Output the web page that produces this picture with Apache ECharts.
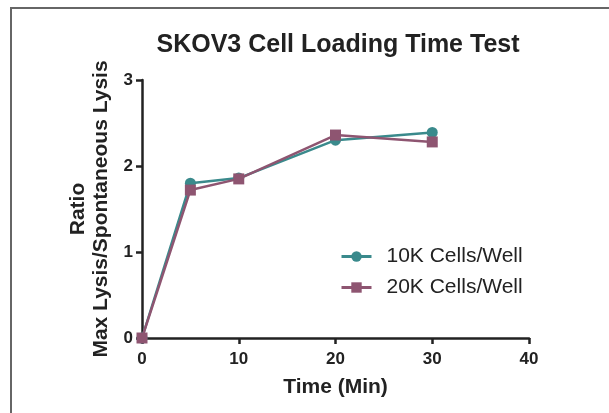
<!DOCTYPE html>
<html>
<head>
<meta charset="utf-8">
<script src="https://cdn.jsdelivr.net/npm/echarts@6/dist/echarts.min.js"></script>
<style>
  html, body { margin: 0; padding: 0; background: #fff; }
  #chart { width: 609px; height: 413px; }
</style>
</head>
<body>
<div id="chart"></div>
<script>
(function () {
var myChart = echarts.init(document.getElementById("chart"));

var times = [0, 5, 10, 20, 30];
var cells10k = [0, 1.80, 1.86, 2.30, 2.39];
var cells20k = [0, 1.72, 1.85, 2.36, 2.28];
var names = ["10K Cells/Well", "20K Cells/Well"];

function pairs(xs, ys) {
    var out = [];
    for (var i = 0; i < xs.length; i++) {
        out.push([xs[i], ys[i]]);
    }
    return out;
}

var font = "Liberation Sans, Arial, sans-serif";

option = {
    animation: false,
    title: {
        text: "SKOV3 Cell Loading Time Test",
        left: 333,
        top: 28,
        textAlign: "center",
        textStyle: {
            fontFamily: font,
            fontSize: 25,
            fontWeight: "bold",
            color: "#222"
        }
    },
    graphic: [{
        type: "rect",
        shape: { x: 11, y: 8, width: 620, height: 420 },
        style: { fill: "none", stroke: "#666", lineWidth: 2 }
    }],
    legend: {
        data: names,
        orient: "vertical",
        left: 335,
        top: 241,
        itemWidth: 30,
        itemHeight: 13,
        itemGap: 10,
        lineStyle: { width: 3 },
        textStyle: {
            fontFamily: font,
            fontSize: 21,
            color: "#222",
            padding: [0, 0, 0, 10]
        }
    },
    grid: {
        left: 142,
        right: 80,
        top: 80,
        bottom: 75
    },
    xAxis: {
        type: "value",
        min: 0,
        max: 40,
        interval: 10,
        name: "Time (Min)",
        nameLocation: "middle",
        nameGap: 39,
        nameTextStyle: {
            fontFamily: font,
            fontSize: 21,
            fontWeight: "bold",
            color: "#222"
        },
        axisLine: { lineStyle: { color: "#222", width: 2.5 } },
        axisTick: { show: true, length: 6, lineStyle: { color: "#222", width: 2.5 } },
        axisLabel: {
            fontFamily: font,
            fontSize: 17,
            fontWeight: "bold",
            color: "#222",
            margin: 13
        },
        splitLine: { show: false }
    },
    yAxis: {
        type: "value",
        min: 0,
        max: 3,
        interval: 1,
        name: "Ratio\nMax Lysis/Spontaneous Lysis",
        nameLocation: "middle",
        nameRotate: 90,
        nameGap: 24,
        nameTextStyle: {
            fontFamily: font,
            fontSize: 21,
            fontWeight: "bold",
            color: "#222",
            lineHeight: 23
        },
        axisLine: { show: true, lineStyle: { color: "#222", width: 2.5 } },
        axisTick: { show: true, length: 6, lineStyle: { color: "#222", width: 2.5 } },
        axisLabel: {
            fontFamily: font,
            fontSize: 17,
            fontWeight: "bold",
            color: "#222",
            margin: 9
        },
        splitLine: { show: false }
    },
    series: [{
        name: names[0],
        type: "line",
        data: pairs(times, cells10k),
        symbol: "circle",
        symbolSize: 11,
        itemStyle: { color: "#3a8a8c" },
        lineStyle: { color: "#3a8a8c", width: 2.5 }
    }, {
        name: names[1],
        type: "line",
        data: pairs(times, cells20k),
        symbol: "rect",
        symbolSize: 11,
        itemStyle: { color: "#8e5571" },
        lineStyle: { color: "#8e5571", width: 2.5 }
    }]
};

myChart.setOption(option);
window.addEventListener("resize", function () {
    myChart.resize();
});
})();
</script>
</body>
</html>
